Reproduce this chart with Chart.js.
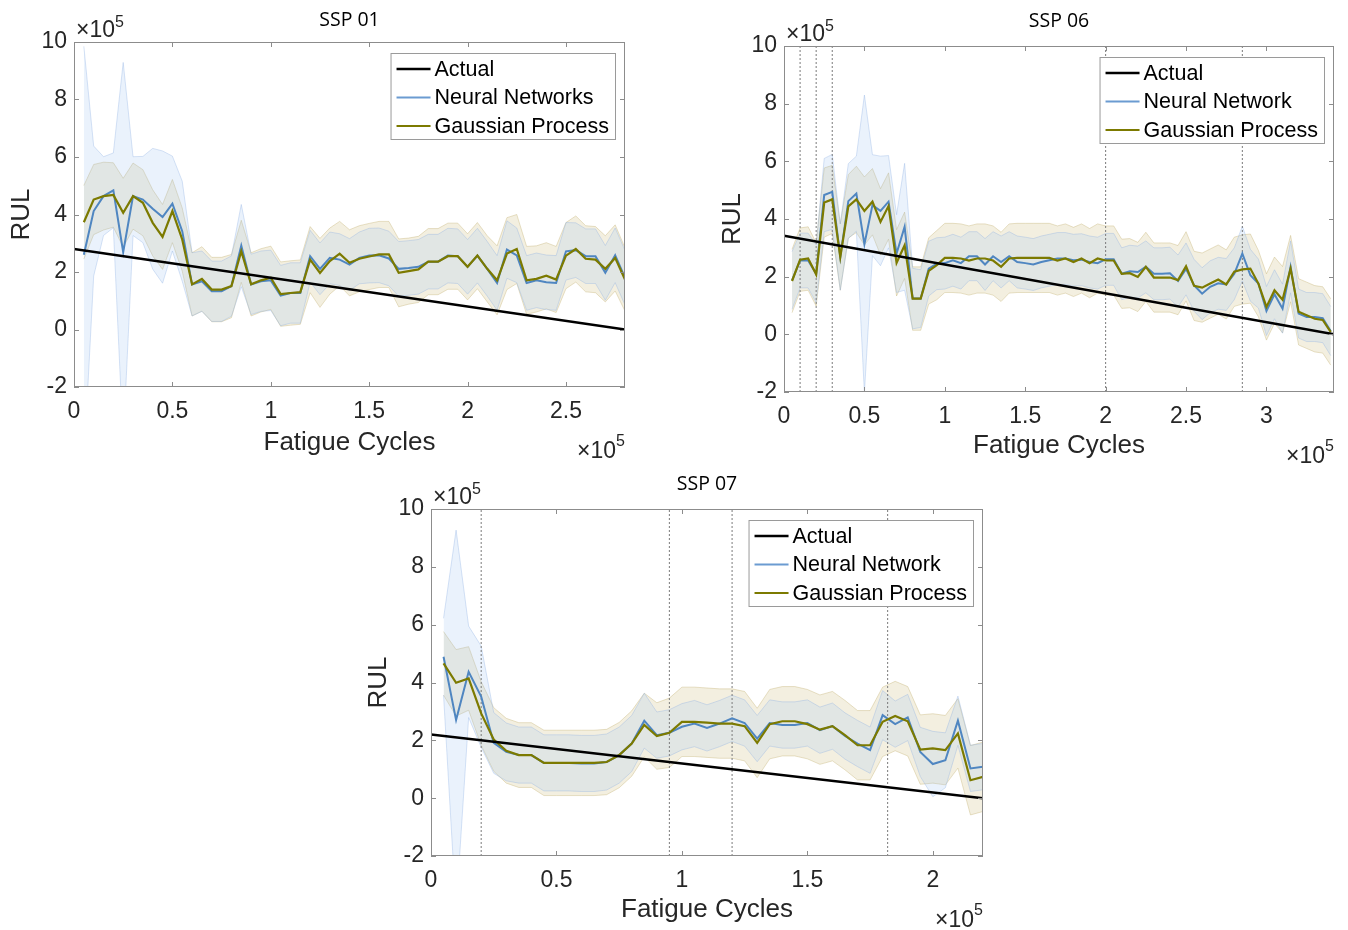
<!DOCTYPE html>
<html>
<head>
<meta charset="utf-8">
<script src="https://cdn.jsdelivr.net/npm/chart.js@4.4.1/dist/chart.umd.min.js"></script>
<style>
  body { margin: 0; background: #fff; width: 1348px; height: 930px; position: relative; overflow: hidden; }
  .panel { position: absolute; }
</style>
</head>
<body>
<div class="panel" style="left:0px;top:0px"><canvas id="c1" width="680" height="468"></canvas></div>
<div class="panel" style="left:710px;top:0px"><canvas id="c2" width="638" height="475"></canvas></div>
<div class="panel" style="left:356px;top:460px"><canvas id="c3" width="660" height="470"></canvas></div>
<script>
// ---- data (cycles and RUL in units of 1e5) ----
const yTicks = [-2, 0, 2, 4, 6, 8, 10];

// SSP 01
const titles1 = "SSP 01";
const names1 = ["Actual", "Neural Networks", "Gaussian Process"];
const xTicks1 = [0, 0.5, 1, 1.5, 2, 2.5];
const actualX1 = [0, 2.8];
const actualY1 = [2.8, 0];
const cycles1 = [0.05,0.10,0.15,0.20,0.25,0.30,0.35,0.40,0.45,0.50,0.55,0.60,0.65,0.70,0.75,0.80,0.85,0.90,0.95,1.00,
  1.05,1.10,1.15,1.20,1.25,1.30,1.35,1.40,1.45,1.50,1.55,1.60,1.65,1.70,1.75,1.80,1.85,1.90,1.95,2.00,
  2.05,2.10,2.15,2.20,2.25,2.30,2.35,2.40,2.45,2.50,2.55,2.60,2.65,2.70,2.75,2.80];
const nn1 = [2.60,4.12,4.64,4.84,2.69,4.64,4.52,4.20,3.91,4.38,3.42,1.57,1.68,1.33,1.33,1.51,2.92,1.57,1.68,1.71,
  1.18,1.27,1.27,2.55,2.11,2.49,2.43,2.26,2.49,2.57,2.58,2.47,2.11,2.14,2.18,2.36,2.36,2.57,2.55,2.18,
  2.57,2.11,1.62,2.78,2.58,1.62,1.71,1.64,1.62,2.72,2.76,2.55,2.55,1.97,2.58,1.80];
const nnErr1 = [7.25,2.26,1.37,1.30,6.60,1.37,1.50,2.10,2.30,1.65,1.74,1.10,1.05,1.05,1.05,1.05,1.43,1.05,1.05,1.05,
  1.05,1.05,1.05,0.90,0.90,0.90,0.90,0.90,0.90,0.95,0.95,0.95,0.95,0.95,0.95,0.95,0.95,0.95,0.95,0.95,
  0.95,0.95,0.95,1.00,0.95,0.95,0.95,0.95,0.95,1.00,0.95,0.95,0.95,0.95,0.95,0.95];
const gp1 = [3.73,4.52,4.64,4.68,4.06,4.64,4.41,3.71,3.22,4.12,3.13,1.57,1.76,1.39,1.39,1.51,2.72,1.57,1.71,1.80,
  1.23,1.27,1.30,2.43,1.97,2.38,2.64,2.32,2.46,2.54,2.61,2.61,1.97,2.03,2.09,2.36,2.36,2.55,2.55,2.18,
  2.57,2.11,1.71,2.64,2.80,1.71,1.76,1.87,1.74,2.57,2.80,2.46,2.43,2.11,2.49,1.74];
const gpErr1 = [1.28,1.22,1.18,1.12,1.20,1.15,1.15,1.15,1.13,1.10,1.10,1.10,1.12,1.12,1.12,1.10,1.08,1.10,1.10,1.10,
  1.12,1.12,1.12,1.15,1.20,1.15,1.12,1.15,1.15,1.15,1.15,1.15,1.18,1.15,1.15,1.15,1.15,1.15,1.15,1.15,
  1.15,1.15,1.20,1.25,1.20,1.18,1.15,1.15,1.15,1.15,1.15,1.15,1.15,1.15,1.15,1.10];
const vlines1 = [];

// SSP 06
const titles2 = "SSP 06";
const names2 = ["Actual", "Neural Network", "Gaussian Process"];
const xTicks2 = [0, 0.5, 1, 1.5, 2, 2.5, 3];
const actualX2 = [0, 3.42];
const actualY2 = [3.42, 0];
const cycles2 = [0.05,0.10,0.15,0.20,0.25,0.30,0.35,0.40,0.45,0.50,0.55,0.60,0.65,0.70,0.75,0.80,0.85,0.90,0.95,1.00,
  1.05,1.10,1.15,1.20,1.25,1.30,1.35,1.40,1.45,1.50,1.55,1.60,1.65,1.70,1.75,1.80,1.85,1.90,1.95,2.00,
  2.05,2.10,2.15,2.20,2.25,2.30,2.35,2.40,2.45,2.50,2.55,2.60,2.65,2.70,2.75,2.80,2.85,2.90,2.95,3.00,
  3.05,3.10,3.15,3.20,3.25,3.30,3.35,3.40];
const nn2 = [1.87,2.56,2.56,2.10,4.83,4.94,2.68,4.62,4.88,3.13,4.48,4.28,4.60,2.80,3.73,1.24,1.24,2.28,2.45,2.47,
  2.57,2.47,2.71,2.71,2.42,2.71,2.51,2.71,2.51,2.47,2.42,2.51,2.57,2.63,2.63,2.57,2.59,2.51,2.47,2.60,
  2.60,2.10,2.19,2.16,2.34,2.10,2.10,2.12,1.85,2.27,1.70,1.41,1.65,1.77,1.73,2.10,2.80,2.05,1.76,0.81,
  1.39,0.89,2.34,0.72,0.60,0.60,0.56,0.11];
const nnErr2 = [1.00,0.95,0.95,1.00,1.27,1.30,1.15,1.30,1.30,5.17,1.75,1.90,1.60,1.35,2.20,1.05,1.00,0.95,0.90,0.90,
  0.90,0.90,0.85,0.85,0.90,0.85,0.90,0.85,0.90,0.90,0.90,0.90,0.90,0.90,0.90,0.90,0.90,0.90,0.90,0.90,
  0.90,0.90,0.90,0.90,0.90,0.90,0.90,0.90,0.90,0.90,0.90,0.90,0.90,0.90,0.90,0.90,0.95,0.90,0.85,0.85,
  0.85,0.85,0.90,0.85,0.85,0.85,0.85,0.85];
const gp2 = [1.85,2.59,2.63,2.08,4.57,4.68,2.68,4.44,4.68,4.28,4.60,3.90,4.45,2.48,3.09,1.24,1.24,2.20,2.40,2.65,
  2.65,2.63,2.56,2.63,2.63,2.56,2.34,2.63,2.65,2.65,2.65,2.65,2.65,2.56,2.63,2.51,2.63,2.47,2.63,2.56,
  2.56,2.10,2.12,1.99,2.34,1.97,1.97,1.97,1.88,2.36,1.68,1.62,1.76,1.90,1.73,2.17,2.25,2.28,1.76,0.95,
  1.53,1.20,2.28,0.78,0.66,0.54,0.50,0.08];
const gpErr2 = [1.10,1.10,1.10,1.10,1.20,1.18,1.15,1.10,1.15,1.18,1.15,1.15,1.15,1.15,1.15,1.10,1.10,1.15,1.20,1.20,
  1.20,1.20,1.20,1.20,1.20,1.20,1.20,1.20,1.20,1.20,1.20,1.20,1.20,1.20,1.20,1.20,1.20,1.20,1.20,1.20,
  1.20,1.20,1.20,1.20,1.20,1.20,1.20,1.20,1.20,1.20,1.20,1.20,1.20,1.20,1.20,1.20,1.20,1.20,1.15,1.15,
  1.15,1.15,1.15,1.15,1.15,1.15,1.15,1.15];
const vlines2 = [0.1, 0.2, 0.3, 2.0, 2.85];

// SSP 07
const titles3 = "SSP 07";
const names3 = ["Actual", "Neural Network", "Gaussian Process"];
const xTicks3 = [0, 0.5, 1, 1.5, 2];
const actualX3 = [0, 2.2];
const actualY3 = [2.2, 0];
const cycles3 = [0.05,0.10,0.15,0.20,0.25,0.30,0.35,0.40,0.45,0.50,0.55,0.60,0.65,0.70,0.75,0.80,0.85,0.90,0.95,1.00,
  1.05,1.10,1.15,1.20,1.25,1.30,1.35,1.40,1.45,1.50,1.55,1.60,1.65,1.70,1.75,1.80,1.85,1.90,1.95,2.00,
  2.05,2.10,2.15,2.20];
const nn3 = [4.89,2.70,4.37,3.51,1.91,1.60,1.49,1.49,1.22,1.22,1.22,1.20,1.20,1.25,1.49,1.89,2.68,2.18,2.26,2.47,
  2.58,2.43,2.58,2.76,2.60,2.06,2.60,2.53,2.53,2.60,2.35,2.49,2.15,1.89,1.66,2.87,2.56,2.79,1.60,1.18,
  1.31,2.68,1.03,1.09];
const nnErr3 = [1.33,6.57,1.58,1.75,1.05,1.00,0.97,0.97,0.97,0.97,0.97,0.97,0.97,0.97,0.97,0.97,0.95,0.80,0.80,0.80,
  0.80,0.80,0.80,0.80,0.80,0.80,0.80,0.80,0.80,0.80,0.80,0.80,0.80,0.80,0.80,0.85,0.80,0.80,0.85,1.13,
  0.95,0.85,0.80,0.80];
const gp3 = [4.66,3.99,4.14,2.93,2.03,1.64,1.49,1.49,1.22,1.22,1.22,1.22,1.22,1.25,1.49,1.89,2.53,2.15,2.26,2.64,
  2.64,2.61,2.58,2.58,2.49,1.91,2.56,2.66,2.66,2.56,2.37,2.49,2.18,1.83,1.83,2.64,2.84,2.66,1.68,1.72,
  1.66,2.24,0.62,0.74];
const gpErr3 = [1.10,1.15,1.10,1.10,1.10,1.12,1.12,1.12,1.13,1.13,1.13,1.13,1.13,1.13,1.13,1.13,1.10,1.15,1.20,1.20,
  1.20,1.20,1.20,1.20,1.20,1.20,1.20,1.20,1.20,1.20,1.20,1.20,1.20,1.20,1.20,1.20,1.20,1.20,1.20,1.20,
  1.20,1.20,1.20,1.20];
const vlines3 = [0.2, 0.95, 1.2, 1.82];

// ---- styling ----
const FONT = '"Liberation Sans", Arial, sans-serif';
Chart.defaults.font.family = FONT;
Chart.defaults.color = "#262626";

const COLORS = {
  actual: "#000000",
  nn: "#4f86c1",
  gp: "#7c7a00",
  nnBand: "rgba(150,190,240,0.2)",
  gpBand: "rgba(205,188,126,0.24)",
  nnEdge: "rgba(140,175,225,0.35)",
  gpEdge: "rgba(190,170,100,0.35)",
  vline: "#7a7a7a",
  axis: "#8c8c8c",
};

// box, inner ticks, x10^5 multipliers and the legend (MATLAB look)
const decor = {
  id: "decor",
  afterDatasetsDraw(chart, args, opts) {
    const { ctx, chartArea: a, scales: { x, y } } = chart;
    ctx.save();
    ctx.strokeStyle = COLORS.axis;
    ctx.lineWidth = 1;
    ctx.setLineDash([]);
    ctx.strokeRect(a.left + 0.5, a.top + 0.5, a.right - a.left - 1, a.bottom - a.top - 1);
    ctx.beginPath();
    x.ticks.forEach(t => {
      const px = Math.round(x.getPixelForValue(t.value)) + 0.5;
      ctx.moveTo(px, a.bottom); ctx.lineTo(px, a.bottom - 5);
      ctx.moveTo(px, a.top); ctx.lineTo(px, a.top + 5);
    });
    y.ticks.forEach(t => {
      const py = Math.round(y.getPixelForValue(t.value)) + 0.5;
      ctx.moveTo(a.left, py); ctx.lineTo(a.left + 5, py);
      ctx.moveTo(a.right, py); ctx.lineTo(a.right - 5, py);
    });
    ctx.stroke();

    // exponent labels
    ctx.fillStyle = "#262626";
    ctx.textBaseline = "alphabetic";
    ctx.textAlign = "left";
    ctx.font = "23px " + FONT;
    const w10 = ctx.measureText("\u00d710").width;
    ctx.fillText("\u00d710", a.left + 2, a.top - 5);
    ctx.font = "16px " + FONT;
    const w5 = ctx.measureText("5").width;
    ctx.fillText("5", a.left + 2 + w10, a.top - 15);
    ctx.font = "23px " + FONT;
    ctx.fillText("\u00d710", a.right - w10 - w5, a.bottom + 71);
    ctx.font = "16px " + FONT;
    ctx.fillText("5", a.right - w5, a.bottom + 59);

    // legend
    ctx.font = "21.5px " + FONT;
    const items = opts.items;
    const tw = Math.max(...items.map(it => ctx.measureText(it.text).width));
    const bw = 44 + tw + 6, bh = 86;
    const bx = a.right - 10 - bw, by = a.top + 11;
    ctx.fillStyle = "#ffffff";
    ctx.fillRect(bx, by, bw, bh);
    ctx.strokeStyle = "#9a9a9a";
    ctx.strokeRect(bx + 0.5, by + 0.5, bw, bh);
    ctx.textBaseline = "middle";
    items.forEach((it, i) => {
      const ry = by + 16 + 28.5 * i;
      ctx.strokeStyle = it.color;
      ctx.lineWidth = it.width;
      ctx.beginPath();
      ctx.moveTo(bx + 6, ry); ctx.lineTo(bx + 40, ry);
      ctx.stroke();
      ctx.fillStyle = "#000";
      ctx.fillText(it.text, bx + 44, ry + 1);
    });
    ctx.restore();
  }
};

function pts(xs, ys) {
  return xs.map((x, i) => ({ x: x, y: ys[i] }));
}

function makeChart(p) {
  const g = p.geo;
  const lineH = s => s * 1.2;
  const titleSize = 19.5;
  const datasets = [];
  datasets.push({ label: p.names[0], data: pts(p.actualX, p.actualY), borderColor: COLORS.actual, borderWidth: 2.5, order: 1 });
  datasets.push({ label: p.names[2], data: pts(p.cycles, p.gp), borderColor: COLORS.gp, borderWidth: 2.2, order: 2 });
  datasets.push({ label: p.names[1], data: pts(p.cycles, p.nn), borderColor: COLORS.nn, borderWidth: 2, order: 3 });
  p.vlines.forEach(v => {
    datasets.push({ data: [{ x: v, y: yTicks[0] }, { x: v, y: yTicks[yTicks.length - 1] }],
      borderColor: COLORS.vline, borderWidth: 1, borderDash: [2, 2], order: 4 });
  });
  datasets.push({ data: pts(p.cycles, p.nn.map((v, i) => v + p.nnErr[i])), fill: "+1",
    backgroundColor: COLORS.nnBand, borderColor: COLORS.nnEdge, borderWidth: 1, order: 5 });
  datasets.push({ data: pts(p.cycles, p.nn.map((v, i) => v - p.nnErr[i])), fill: false,
    borderColor: COLORS.nnEdge, borderWidth: 1, order: 5 });
  datasets.push({ data: pts(p.cycles, p.gp.map((v, i) => v + p.gpErr[i])), fill: "+1",
    backgroundColor: COLORS.gpBand, borderColor: COLORS.gpEdge, borderWidth: 1, order: 6 });
  datasets.push({ data: pts(p.cycles, p.gp.map((v, i) => v - p.gpErr[i])), fill: false,
    borderColor: COLORS.gpEdge, borderWidth: 1, order: 6 });

  const titlePadTop = g.titleCY - lineH(titleSize) / 2;
  const titlePadBottom = g.area.t - titlePadTop - lineH(titleSize);

  return new Chart(document.getElementById(p.id), {
    type: "line",
    data: { datasets: datasets },
    plugins: [decor],
    options: {
      responsive: false,
      animation: false,
      events: [],
      layout: { padding: { left: 0, top: 0, bottom: 0, right: g.w - g.area.r } },
      elements: { point: { radius: 0 }, line: { tension: 0, fill: false } },
      plugins: {
        legend: { display: false },
        tooltip: { enabled: false },
        title: {
          display: true, text: p.title, fullSize: false, color: "#000",
          font: { family: '"Open Sans", "Noto Sans", sans-serif', size: titleSize, weight: "normal" },
          padding: { top: titlePadTop, bottom: titlePadBottom },
        },
        decor: {
          items: [
            { text: p.names[0], color: COLORS.actual, width: 2.5 },
            { text: p.names[1], color: "#6b9bd1", width: 2 },
            { text: p.names[2], color: COLORS.gp, width: 2 },
          ],
        },
      },
      scales: {
        x: {
          type: "linear", min: 0, max: p.xMax,
          grid: { display: false, drawTicks: false }, border: { display: false },
          afterBuildTicks: s => { s.ticks = p.xTicks.map(v => ({ value: v })); },
          afterFit: s => { s.height = g.h - g.area.b; },
          ticks: { font: { size: 23 }, padding: 24.5 - lineH(23) / 2, maxRotation: 0, autoSkip: false, callback: v => String(v) },
          title: { display: true, text: "Fatigue Cycles", font: { size: 26 }, color: "#262626",
            padding: { top: 0, bottom: g.h - g.xTitleCY - lineH(26) / 2 } },
        },
        y: {
          type: "linear", min: yTicks[0], max: yTicks[yTicks.length - 1],
          grid: { display: false, drawTicks: false }, border: { display: false },
          afterBuildTicks: s => { s.ticks = yTicks.map(v => ({ value: v })); },
          afterFit: s => { s.width = g.area.l; },
          ticks: { font: { size: 23 }, padding: 7, callback: v => String(v) },
          title: { display: true, text: "RUL", font: { size: 26 }, color: "#262626",
            padding: { top: g.yTitleCX - lineH(26) / 2, bottom: 0 } },
        },
      },
    },
  });
}

// geometry of each panel, relative to its canvas
makeChart({ id: "c1", title: titles1, names: names1, xMax: 2.8, xTicks: xTicks1, actualX: actualX1, actualY: actualY1,
  cycles: cycles1, nn: nn1, nnErr: nnErr1, gp: gp1, gpErr: gpErr1, vlines: vlines1,
  geo: { w: 680, h: 468, area: { l: 74, t: 42, r: 625, b: 387 }, titleCY: 20, xTitleCY: 442.5, yTitleCX: 21.5 } });
makeChart({ id: "c2", title: titles2, names: names2, xMax: 3.42, xTicks: xTicks2, actualX: actualX2, actualY: actualY2,
  cycles: cycles2, nn: nn2, nnErr: nnErr2, gp: gp2, gpErr: gpErr2, vlines: vlines2,
  geo: { w: 638, h: 475, area: { l: 74, t: 46, r: 624, b: 392 }, titleCY: 21, xTitleCY: 445.5, yTitleCX: 22.5 } });
makeChart({ id: "c3", title: titles3, names: names3, xMax: 2.2, xTicks: xTicks3, actualX: actualX3, actualY: actualY3,
  cycles: cycles3, nn: nn3, nnErr: nnErr3, gp: gp3, gpErr: gpErr3, vlines: vlines3,
  geo: { w: 660, h: 470, area: { l: 75, t: 49, r: 627, b: 396 }, titleCY: 24.5, xTitleCY: 450, yTitleCX: 23 } });
</script>
</body>
</html>
